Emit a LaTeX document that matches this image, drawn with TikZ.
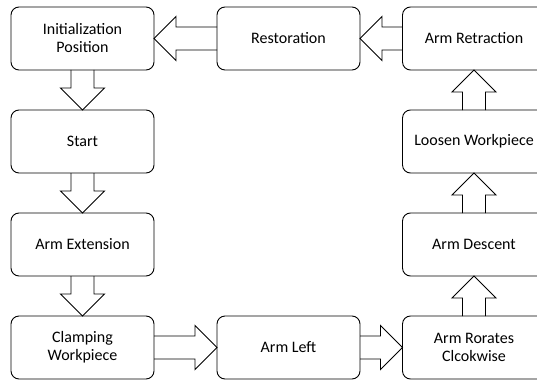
\documentclass[tikz,border=0pt]{standalone}
\usepackage{fontspec}
\setmainfont{Carlito}
\usetikzlibrary{positioning, calc}

\begin{document}
\begin{tikzpicture}[
      x=1pt, y=1pt,
      node distance=40pt and 63pt,
      stage/.style={
        rectangle,
        draw,
        rounded corners=8pt,
        line width=0.9pt,
        text centered,
        align=center,
        minimum width=143pt,
        minimum height=63pt,
        inner sep=2pt,
        outer sep=0pt,
        font=\fontsize{16}{18}\selectfont,
      },
      % hollow block arrow, #1 #2 = direction
      blk/.style 2 args={
        line width=0.9pt,
        line join=miter,
        to path={
          ($(\tikztostart)+({11.5*#2},{-11.5*#1})$)
          -- ($(\tikztotarget)+({-22*#1+11.5*#2},{-22*#2-11.5*#1})$)
          -- ($(\tikztotarget)+({-22*#1+22*#2},{-22*#2-22*#1})$)
          -- (\tikztotarget)
          -- ($(\tikztotarget)+({-22*#1-22*#2},{-22*#2+22*#1})$)
          -- ($(\tikztotarget)+({-22*#1-11.5*#2},{-22*#2+11.5*#1})$)
          -- ($(\tikztostart)+({-11.5*#2},{11.5*#1})$)
        }
      }
    ]
      \path[use as bounding box, clip] (0,0) rectangle (537,381);

      % left column
      \node[stage] (init) at (82.5,342.5) {Initialization\\Position};
      \node[stage, below=of init] (start) {Start};
      \node[stage, below=of start] (extend) {Arm Extension};
      \node[stage, below=of extend] (clamp) {Clamping\\Workpiece};
      % middle
      \node[stage, right=of clamp] (armleft) {Arm Left};
      \node[stage, right=of init] (restore) {Restoration};
      % right column
      \node[stage, right=42.5pt of armleft] (cwrot) {Arm Rorates\\Clcokwise};
      \node[stage, above=of cwrot] (descent) {Arm Descent};
      \node[stage, above=of descent] (loosen) {Loosen Workpiece};
      \node[stage, above=of loosen] (retract) {Arm Retraction};

      % block arrows
      \draw[blk={0}{-1}] (init.south) to (start.north);
      \draw[blk={0}{-1}] (start.south) to (extend.north);
      \draw[blk={0}{-1}] (extend.south) to (clamp.north);
      \draw[blk={1}{0}] (clamp.east) to (armleft.west);
      \draw[blk={1}{0}] (armleft.east) to (cwrot.west);
      \draw[blk={0}{1}] (cwrot.north) to (descent.south);
      \draw[blk={0}{1}] (descent.north) to (loosen.south);
      \draw[blk={0}{1}] (loosen.north) to (retract.south);
      \draw[blk={-1}{0}] (retract.west) to (restore.east);
      \draw[blk={-1}{0}] (restore.west) to (init.east);
    \end{tikzpicture}
\end{document}
